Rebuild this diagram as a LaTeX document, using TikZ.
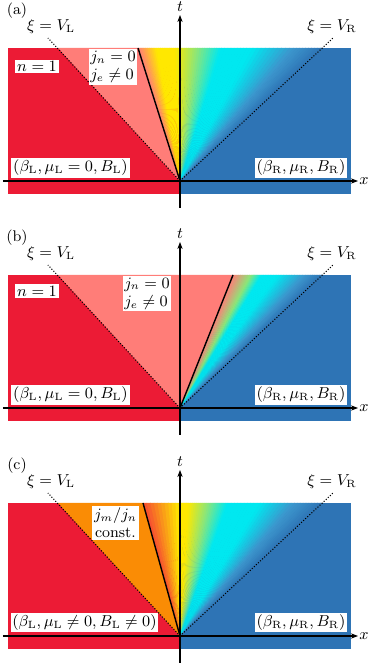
\documentclass[tikz,border=0pt]{standalone}
\usetikzlibrary{arrows.meta}
\definecolor{regred}{RGB}{236,27,53}
\definecolor{regpink}{RGB}{255,125,120}
\definecolor{regorange}{RGB}{250,140,5}
\definecolor{regblue}{RGB}{46,116,181}
\definecolor{fanred}{RGB}{245,75,50}
\definecolor{fanyellow}{RGB}{255,232,0}
\definecolor{fangreen}{RGB}{140,230,120}
\definecolor{fancyan}{RGB}{0,232,240}
\definecolor{fansteel}{RGB}{60,150,205}

% thin slices from the origin up to the top edge (#1 to #2), colour stops #3
\newcommand{\colorfan}[3]{%
  \foreach \fa/\fb/\ca/\cb in {#3}{
    \foreach \k in {0,...,9}{
      \pgfmathsetmacro\xa{#1+(#2-(#1))*(\fa+(\fb-\fa)*\k/10)}
      \pgfmathsetmacro\xb{#1+(#2-(#1))*(\fa+(\fb-\fa)*(\k+1)/10)+0.6}
      \pgfmathtruncatemacro\pc{95-10*\k}
      \fill[\ca!\pc!\cb] (0,0) -- (\xa,133) -- (\xb,133) -- cycle;
    }
  }%
}

\begin{document}
\begin{tikzpicture}[
  x=0.02cm, y=0.02cm, font=\fontsize{8.8}{10.4}\selectfont,
  lbl/.style={fill=white, inner sep=1pt},
  axis/.style={line width=0.6pt, -{Stealth[length=4pt,width=3pt]}},
  char/.style={densely dotted, line width=0.6pt},
  front/.style={line width=0.8pt}
]
\useasboundingbox (0,0) rectangle (374,664);
% ---------------- (a) -----------------------------------------------------
\begin{scope}[shift={(180,483)}, name prefix=a-]
  \coordinate (O) at (0,0);
  \fill[regred] (-172,-13) rectangle (0,133);
  \fill[regblue] (0,-13) rectangle (171,133);
  \fill[regpink] (0,0) -- (-122,133) -- (-42,133) -- cycle;
  \colorfan{-42}{143}{0/0.1/regpink/fanyellow, 0.1/0.2/fanyellow/fanyellow,
    0.2/0.32/fanyellow/fangreen, 0.32/0.45/fangreen/fancyan,
    0.45/0.62/fancyan/fancyan, 0.62/0.84/fancyan/fansteel, 0.84/1/fansteel/regblue}
  \coordinate (VL) at (-132,143);
  \coordinate (VR) at (153,143);
  \coordinate (F) at (-42,133);
  \draw[char] (O) -- (VL);
  \draw[char] (O) -- (VR);
  \draw[front] (O) -- (F);
  \coordinate (xs) at (-177,0);
  \coordinate (xe) at (178,0);
  \coordinate (ts) at (0,-27);
  \coordinate (te) at (0,166);
  \draw[axis] (xs) -- (xe);
  \draw[axis] (ts) -- (te);
  \node (xl) at (184,0) {$x$};
  \node (tl) at (0,174) {$t$};
  \node (tag) at (-163,170) {(a)};
  \node (xiL) at (-129,154) {$\xi=V_{\mathrm{L}}$};
  \node (xiR) at (152,154) {$\xi=V_{\mathrm{R}}$};
  \node[lbl] (n) at (-143,114.5) {$n=1$};
  \node[lbl, align=left] (j) at (-67,114) {$j_n=0$\\$j_e\neq0$};
  \node[lbl] (stL) at (-109.5,13) {$(\beta_{\mathrm{L}},\mu_{\mathrm{L}}=0,B_{\mathrm{L}})$};
  \node[lbl] (stR) at (121,13) {$(\beta_{\mathrm{R}},\mu_{\mathrm{R}},B_{\mathrm{R}})$};
\end{scope}
% ---------------- (b) -----------------------------------------------------
\begin{scope}[shift={(180,256)}, name prefix=b-]
  \coordinate (O) at (0,0);
  \fill[regred] (-172,-13) rectangle (0,133);
  \fill[regblue] (0,-13) rectangle (171,133);
  \fill[regpink] (0,0) -- (-122,133) -- (53,133) -- cycle;
  \colorfan{53}{143}{0/0.2/regpink/fangreen, 0.2/0.32/fangreen/fancyan,
    0.32/0.5/fancyan/fancyan, 0.5/0.8/fancyan/fansteel, 0.8/1/fansteel/regblue}
  \coordinate (VL) at (-132,143);
  \coordinate (VR) at (153,143);
  \coordinate (F) at (53,133);
  \draw[char] (O) -- (VL);
  \draw[char] (O) -- (VR);
  \draw[front] (O) -- (F);
  \coordinate (xs) at (-177,0);
  \coordinate (xe) at (178,0);
  \coordinate (ts) at (0,-27);
  \coordinate (te) at (0,166);
  \draw[axis] (xs) -- (xe);
  \draw[axis] (ts) -- (te);
  \node (xl) at (184,0) {$x$};
  \node (tl) at (0,174) {$t$};
  \node (tag) at (-163,170) {(b)};
  \node (xiL) at (-129,154) {$\xi=V_{\mathrm{L}}$};
  \node (xiR) at (152,154) {$\xi=V_{\mathrm{R}}$};
  \node[lbl] (n) at (-143,117) {$n=1$};
  \node[lbl, align=left] (j) at (-33,114.5) {$j_n=0$\\$j_e\neq0$};
  \node[lbl] (stL) at (-109.5,13) {$(\beta_{\mathrm{L}},\mu_{\mathrm{L}}=0,B_{\mathrm{L}})$};
  \node[lbl] (stR) at (121,13) {$(\beta_{\mathrm{R}},\mu_{\mathrm{R}},B_{\mathrm{R}})$};
\end{scope}
% ---------------- (c) -----------------------------------------------------
\begin{scope}[shift={(180,28)}, name prefix=c-]
  \coordinate (O) at (0,0);
  \fill[regred] (-172,-13) rectangle (0,133);
  \fill[regblue] (0,-13) rectangle (171,133);
  \fill[regorange] (0,0) -- (-122,133) -- (-37,133) -- cycle;
  \colorfan{-37}{143}{0/0.2/fanred/fanyellow, 0.2/0.25/fanyellow/fanyellow,
    0.25/0.36/fanyellow/fangreen, 0.36/0.47/fangreen/fancyan,
    0.47/0.65/fancyan/fancyan, 0.65/0.84/fancyan/fansteel, 0.84/1/fansteel/regblue}
  \coordinate (VL) at (-132,143);
  \coordinate (VR) at (153,143);
  \coordinate (F) at (-37,133);
  \draw[char] (O) -- (VL);
  \draw[char] (O) -- (VR);
  \draw[front] (O) -- (F);
  \coordinate (xs) at (-177,0);
  \coordinate (xe) at (178,0);
  \coordinate (ts) at (0,-27);
  \coordinate (te) at (0,166);
  \draw[axis] (xs) -- (xe);
  \draw[axis] (ts) -- (te);
  \node (xl) at (184,0) {$x$};
  \node (tl) at (0,174) {$t$};
  \node (tag) at (-163,170) {(c)};
  \node (xiL) at (-129,154) {$\xi=V_{\mathrm{L}}$};
  \node (xiR) at (152,154) {$\xi=V_{\mathrm{R}}$};
  \node[lbl, align=center] (j) at (-64.5,113) {$j_m/j_n$\\const.};
  \node[lbl] (stL) at (-95.5,13.5) {$(\beta_{\mathrm{L}},\mu_{\mathrm{L}}\neq0,B_{\mathrm{L}}\neq0)$};
  \node[lbl] (stR) at (121,13.5) {$(\beta_{\mathrm{R}},\mu_{\mathrm{R}},B_{\mathrm{R}})$};
\end{scope}
\end{tikzpicture}
\end{document}
